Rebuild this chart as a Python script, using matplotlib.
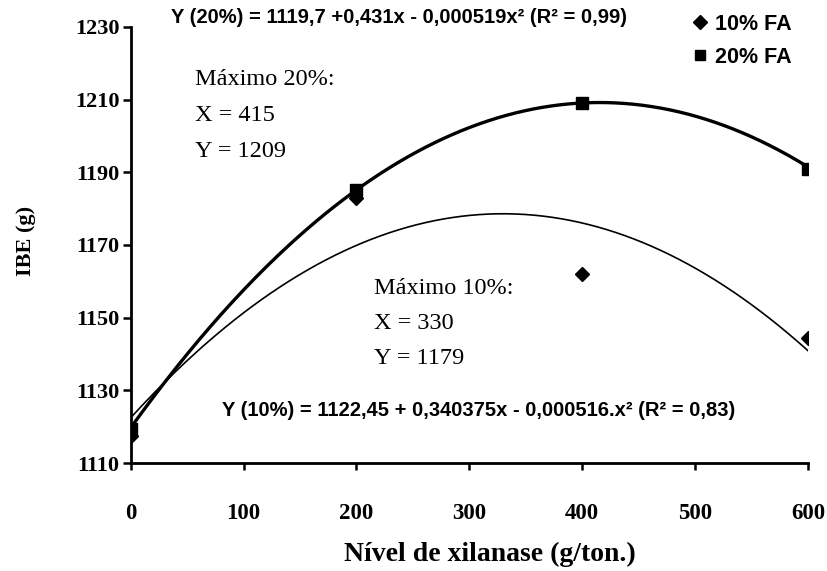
import numpy as np
import matplotlib
matplotlib.use("Agg")
import matplotlib.pyplot as plt
from matplotlib.lines import Line2D

# Data
xilanase = [0, 200, 400, 600]
ibe_10 = [1117.5, 1183, 1162, 1144.5]
ibe_20 = [1119.5, 1185, 1209, 1190.8]
coef_10 = [1122.45, 0.340375, -0.000516]   # fitted quadratic (10% FA)
coef_20 = [1119.7, 0.431, -0.000519]       # fitted quadratic (20% FA)
y_ticks = [1110, 1130, 1150, 1170, 1190, 1210, 1230]
x_ticks = [0, 100, 200, 300, 400, 500, 600]

serif = "Liberation Serif"
sans = "Liberation Sans"

fig = plt.figure(figsize=(8.27, 5.71), dpi=100)
ax = fig.add_axes([0.158, 0.189, 0.819, 0.764])

xs = np.linspace(0, 600, 300)
ax.plot(xs, coef_20[0] + coef_20[1] * xs + coef_20[2] * xs**2, color="black", lw=2.4)
ax.plot(xs, coef_10[0] + coef_10[1] * xs + coef_10[2] * xs**2, color="black", lw=1.2)
ax.plot(xilanase, ibe_10, linestyle="none", marker="D", ms=7, color="black")
ax.plot(xilanase, ibe_20, linestyle="none", marker="s", ms=8, color="black")

ax.set_xlim(0, 600)
ax.set_ylim(1110, 1230)
ax.set_xticks(x_ticks)
ax.set_yticks(y_ticks)
for s in ["top", "right"]:
    ax.spines[s].set_visible(False)
for s in ["left", "bottom"]:
    ax.spines[s].set_linewidth(2.0)
ax.tick_params(axis="y", direction="out", length=6, width=1.8, pad=2, labelsize=16)
ax.tick_params(axis="x", direction="out", length=5, width=1.8, pad=24, labelsize=16.5)
for lab in ax.get_xticklabels() + ax.get_yticklabels():
    lab.set_fontfamily(serif)
    lab.set_fontweight("bold")

ax.set_ylabel("IBE (g)", fontfamily=serif, fontweight="bold", fontsize=16)
ax.set_xlabel("Nível de xilanase (g/ton.)", fontfamily=serif, fontweight="bold", fontsize=20)
ax.yaxis.set_label_coords(-0.155, 0.51)
ax.xaxis.set_label_coords(0.53, -0.21)
ax.xaxis.label.set_va("center")
ax.yaxis.label.set_va("center")

ax.text(36, 1232.5, "Y (20%) = 1119,7 +0,431x - 0,000519x² (R² = 0,99)",
        fontfamily=sans, fontweight="bold", fontsize=14.5, va="center", ha="left", clip_on=False)
ax.text(81, 1124.5, "Y (10%) = 1122,45 + 0,340375x - 0,000516.x² (R² = 0,83)",
        fontfamily=sans, fontweight="bold", fontsize=14.5, va="center", ha="left")

for i, t in enumerate(["Máximo 20%:", "X = 415", "Y = 1209"]):
    ax.text(57, 1215.4 - 9.8 * i, t, fontfamily=serif, fontsize=17.5, va="center", ha="left")
for i, t in enumerate(["Máximo 10%:", "X = 330", "Y = 1179"]):
    ax.text(216, 1158.1 - 9.7 * i, t, fontfamily=serif, fontsize=17.5, va="center", ha="left")

handles = [Line2D([], [], linestyle="none", marker="D", ms=7, color="black"),
           Line2D([], [], linestyle="none", marker="s", ms=7, color="black")]
leg = fig.legend(handles, ["10% FA", "20% FA"], loc="upper left",
                 bbox_to_anchor=(0.815, 1.01), frameon=False, handlelength=0.6,
                 handletextpad=0.4, labelspacing=0.55,
                 prop={"family": sans, "weight": "bold", "size": 15.5})

fig.savefig("out.png", dpi=100)
